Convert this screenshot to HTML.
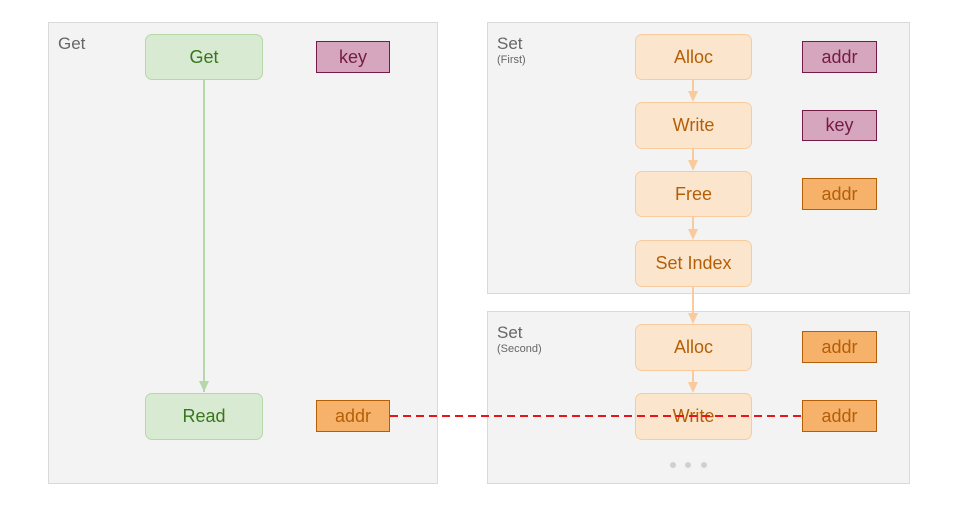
<!DOCTYPE html>
<html><head><style>
body{margin:0;width:960px;height:506px;background:#fff;position:relative;overflow:hidden;font-family:"Liberation Sans",Arial,sans-serif}
.a{position:absolute;box-sizing:border-box}
.panel{background:#f3f3f3;border:1px solid #d9d9d9}
.pt{position:absolute;left:9px;top:12px;color:#666;font-size:17px;line-height:18px}
.pt small{display:block;font-size:11px;line-height:14px}
.box{display:flex;align-items:center;justify-content:center;font-size:18px;border-radius:7px}
.g{background:#d9ead3;border:1px solid #b6d7a8;color:#38761d}
.o{background:#fce5cd;border:1px solid #f9cb9c;color:#b45f06}
.tag{display:flex;align-items:center;justify-content:center;font-size:18px}
.p{background:#d5a6bd;border:1px solid #741b47;color:#741b47}
.q{background:#f6b26b;border:1px solid #b45f06;color:#b45f06}
</style></head><body>
<div class="a panel" style="left:48px;top:22px;width:390px;height:462px"><div class="pt">Get</div></div>
<div class="a panel" style="left:487px;top:22px;width:423px;height:272px"><div class="pt">Set<small>(First)</small></div></div>
<div class="a panel" style="left:487px;top:311px;width:423px;height:173px"><div class="pt">Set<small>(Second)</small></div></div>

<svg class="a" style="left:0;top:0" width="960" height="506">
<defs>
<marker id="ag" markerWidth="8" markerHeight="8" refX="4" refY="7" orient="auto" markerUnits="userSpaceOnUse"><path d="M0,0 L8,0 L4,8z" fill="#b6d7a8"/></marker>
<marker id="ao" markerWidth="8" markerHeight="10" refX="4" refY="9" orient="auto" markerUnits="userSpaceOnUse"><path d="M0,0 L8,0 L4,10z" fill="#f9cb9c"/></marker>
</defs>
<line x1="204" y1="79" x2="204" y2="392" stroke="#b6d7a8" stroke-width="2"/>
<path d="M199,381 L209,381 L204,392z" fill="#b6d7a8"/>
<g stroke="#f9cb9c" stroke-width="2" fill="#f9cb9c">
<line x1="693" y1="79" x2="693" y2="94"/><path d="M688,91 L698,91 L693,102z" stroke="none"/>
<line x1="693" y1="148" x2="693" y2="163"/><path d="M688,160 L698,160 L693,171z" stroke="none"/>
<line x1="693" y1="216" x2="693" y2="232"/><path d="M688,229 L698,229 L693,240z" stroke="none"/>
<line x1="693" y1="286" x2="693" y2="316"/><path d="M688,313 L698,313 L693,324z" stroke="none"/>
<line x1="693" y1="370" x2="693" y2="385"/><path d="M688,382 L698,382 L693,393z" stroke="none"/>
</g>
<circle cx="673" cy="465" r="3" fill="#d0d0d0"/><circle cx="688" cy="465" r="3" fill="#d0d0d0"/><circle cx="704" cy="465" r="3" fill="#d0d0d0"/>
</svg>

<div class="a box g" style="left:145px;top:34px;width:118px;height:46px">Get</div>
<div class="a box g" style="left:145px;top:393px;width:118px;height:47px">Read</div>
<div class="a tag p" style="left:316px;top:41px;width:74px;height:32px">key</div>
<div class="a tag q" style="left:316px;top:400px;width:74px;height:32px">addr</div>

<div class="a box o" style="left:635px;top:34px;width:117px;height:46px">Alloc</div>
<div class="a box o" style="left:635px;top:102px;width:117px;height:47px">Write</div>
<div class="a box o" style="left:635px;top:171px;width:117px;height:46px">Free</div>
<div class="a box o" style="left:635px;top:240px;width:117px;height:47px">Set Index</div>
<div class="a tag p" style="left:802px;top:41px;width:75px;height:32px">addr</div>
<div class="a tag p" style="left:802px;top:110px;width:75px;height:31px">key</div>
<div class="a tag q" style="left:802px;top:178px;width:75px;height:32px">addr</div>

<div class="a box o" style="left:635px;top:324px;width:117px;height:47px">Alloc</div>
<div class="a box o" style="left:635px;top:393px;width:117px;height:47px">Write</div>
<div class="a tag q" style="left:802px;top:331px;width:75px;height:32px">addr</div>
<div class="a tag q" style="left:802px;top:400px;width:75px;height:32px">addr</div>

<svg class="a" style="left:0;top:0" width="960" height="506">
<line x1="390" y1="416" x2="802" y2="416" stroke="#e8141a" stroke-width="2" stroke-dasharray="8,5"/>
</svg>
</body></html>
